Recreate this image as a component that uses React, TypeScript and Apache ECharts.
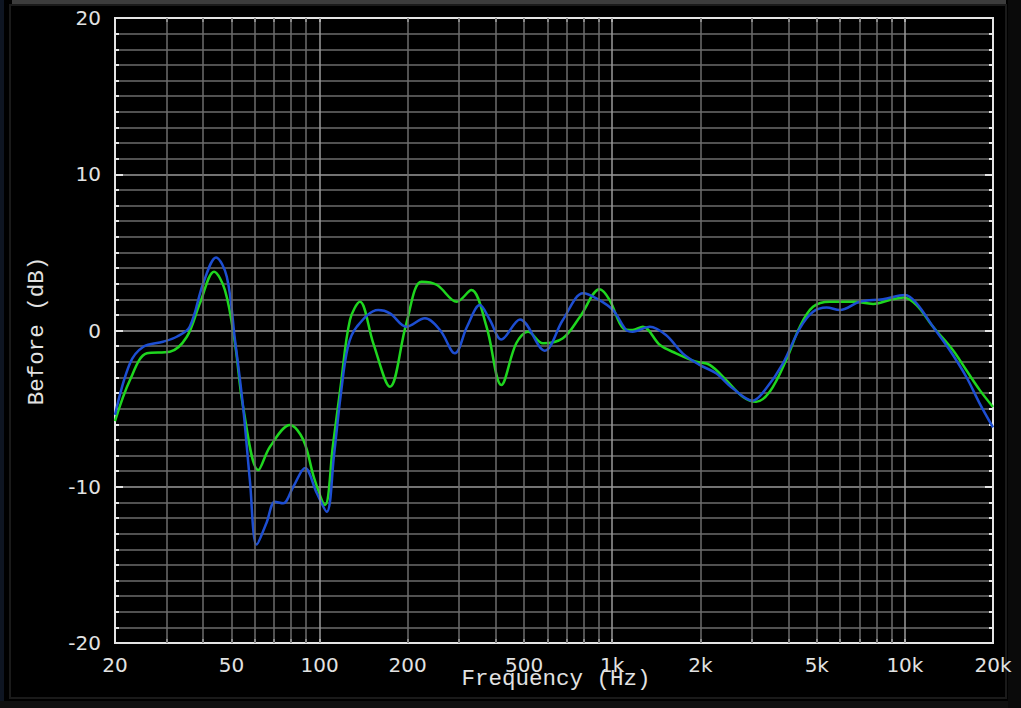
import React, { useEffect, useRef } from 'react';
import * as echarts from 'echarts';

// Axis ticks / labels
const xLabelFreqs = [20, 50, 100, 200, 500, 1000, 2000, 5000, 10000, 20000];
const gridFreqs = [
  30, 40, 50, 60, 70, 80, 90, 100,
  200, 300, 400, 500, 600, 700, 800, 900, 1000,
  2000, 3000, 4000, 5000, 6000, 7000, 8000, 9000, 10000,
];
const decadeFreqs = [100, 1000, 10000];

// Blue curve
const blueFreq = [
  20, 22.5, 25, 29.2, 32.5, 36, 40, 44.3, 48.2, 51.4, 54.8, 57.8, 61, 65.9, 70.4, 75.1,
  81.3, 89.2, 97.8, 105.8, 112, 118, 125, 134, 158.6, 174, 198, 229, 258, 290, 319, 353,
  382, 418, 484, 588, 678, 796, 882, 1006, 1116, 1174, 1344, 1526, 1740, 1988, 2264,
  2580, 3020, 3360, 3832, 4374, 4854, 5400, 5992, 7014, 8416, 10010, 10960, 12480,
  14220, 16200, 18000, 20000,
];
const blueDb = [
  -5.4, -2.1, -1.04, -0.72, -0.4, 0.24, 3.0, 4.68, 3.44, -0.6, -4.9, -9.6, -13.7, -12.3,
  -10.96, -11.06, -10.0, -8.8, -10.4, -11.6, -8.0, -4.2, -1.04, 0.24, 1.31, 1.1, 0.24,
  0.78, 0.03, -1.46, 0.24, 1.63, 0.67, -0.57, 0.71, -1.29, 0.67, 2.38, 2.06, 1.31, 0.03,
  -0.08, 0.24, -0.29, -1.46, -2.2, -2.74, -3.7, -4.49, -3.7, -2.1, 0.14, 1.2, 1.48, 1.31,
  1.84, 2.0, 2.27, 1.74, 0.24, -1.25, -2.96, -4.66, -6.2,
];

// Green curve
const greenFreq = [
  20, 22.5, 25.7, 30.8, 35.2, 39, 43.6, 47.5, 51.4, 54.8, 61.8, 67.7, 79.2, 88, 96, 104.4,
  111, 118, 127, 137.4, 152.6, 174, 198, 223, 252, 294, 330, 372, 418, 470, 516, 580, 678,
  776, 906, 980, 1090, 1174, 1272, 1456, 1652, 1936, 2152, 2452, 2792, 3100, 3452, 3930,
  4374, 4854, 5540, 6668, 7790, 8874, 9880, 10960, 12480, 14580, 16200, 18000, 20000,
];
const greenDb = [
  -5.8, -3.17, -1.46, -1.36, -0.4, 1.74, 3.76, 2.59, -0.82, -4.9, -8.93, -7.44, -6.05,
  -7.0, -9.5, -11.17, -7.4, -3.6, 0.67, 1.84, -0.82, -3.6, 0.46, 3.12, 2.91, 1.84, 2.59,
  0.24, -3.49, -0.82, -0.08, -0.82, -0.5, 0.88, 2.64, 1.95, 0.14, 0.03, 0.24, -0.93,
  -1.46, -2.0, -2.2, -3.17, -4.24, -4.56, -3.92, -1.89, 0.24, 1.52, 1.84, 1.84, 1.7, 1.95,
  2.12, 1.63, 0.24, -1.25, -2.53, -3.8, -4.9,
];

const FRAME = '#e4e4e4';
const LABEL = '#e2e2e2';
const MINOR = '#6c6c6c';
const MAJOR = '#9a9a9a';

export default function App() {
  const ref = useRef<HTMLDivElement>(null);

  useEffect(() => {
    document.body.style.margin = '0';
    document.body.style.background = '#000';
    const chart = echarts.init(ref.current!, null, { renderer: 'svg' });

    const fmt = (v: number) => {
      const r = Math.round(v);
      return r >= 1000 ? r / 1000 + 'k' : String(r);
    };
    const tickLabel = {
      color: LABEL,
      fontFamily: 'DejaVu Sans',
      fontSize: 20,
    };
    const xBase: any = {
      type: 'log',
      logBase: 10,
      min: 20,
      max: 20000,
      splitLine: { show: false },
      minorTick: { show: false },
      minorSplitLine: { show: false },
      axisLine: { show: true, onZero: false, lineStyle: { color: FRAME, width: 2 } },
      axisTick: {
        show: true,
        inside: true,
        length: 4,
        customValues: gridFreqs,
        lineStyle: { color: FRAME, width: 2 },
      },
    };
    const yBase: any = {
      type: 'value',
      min: -20,
      max: 20,
      interval: 10,
      axisLine: { show: true, onZero: false, lineStyle: { color: FRAME, width: 2 } },
      axisTick: { show: true, inside: true, length: 8, lineStyle: { color: FRAME, width: 2 } },
      minorTick: { show: true, splitNumber: 10, length: 4, lineStyle: { color: FRAME, width: 2 } },
      splitLine: { show: true, lineStyle: { color: MAJOR, width: 1.5 } },
      minorSplitLine: { show: true, lineStyle: { color: MINOR, width: 1.5 } },
    };

    chart.setOption({
      animation: false,
      backgroundColor: '#000',
      grid: {
        left: 115,
        top: 18,
        width: 878,
        height: 625,
        show: true,
        backgroundColor: '#000',
        borderColor: FRAME,
        borderWidth: 2,
      },
      xAxis: [
        {
          ...xBase,
          position: 'bottom',
          axisLabel: {
            ...tickLabel,
            customValues: xLabelFreqs,
            formatter: fmt,
            margin: 12,
          },
        },
        {
          ...xBase,
          position: 'top',
          axisLabel: { show: false },
        },
      ],
      yAxis: [
        {
          ...yBase,
          position: 'left',
          axisLabel: { ...tickLabel, margin: 14 },
        },
        {
          ...yBase,
          position: 'right',
          splitLine: { show: false },
          minorSplitLine: { show: false },
          axisLabel: { show: false },
        },
      ],
      series: [
        {
          name: 'grid',
          type: 'line',
          data: [[20, -20]],
          showSymbol: false,
          lineStyle: { opacity: 0 },
          silent: true,
          z: 1,
          markLine: {
            silent: true,
            symbol: ['none', 'none'],
            label: { show: false },
            emphasis: { disabled: true },
            data: gridFreqs.map((f) => ({
              xAxis: f,
              lineStyle: {
                color: decadeFreqs.includes(f) ? MAJOR : MINOR,
                width: 1.5,
                type: 'solid',
              },
            })),
          },
        },
        {
          name: 'green',
          type: 'line',
          data: greenFreq.map((f, i) => [f, greenDb[i]]),
          showSymbol: false,
          smooth: 0.35,
          lineStyle: { color: '#1fd61f', width: 2.5 },
          itemStyle: { color: '#1fd61f' },
          z: 3,
        },
        {
          name: 'blue',
          type: 'line',
          data: blueFreq.map((f, i) => [f, blueDb[i]]),
          showSymbol: false,
          smooth: 0.35,
          lineStyle: { color: '#1d4ed2', width: 2.5 },
          itemStyle: { color: '#1d4ed2' },
          z: 4,
        },
      ],
      graphic: [
        { type: 'rect', shape: { x: 0, y: 0, width: 4, height: 708 }, style: { fill: '#0e1522' }, silent: true },
        { type: 'rect', shape: { x: 12, y: 0, width: 994, height: 4 }, style: { fill: '#3c3c3c' }, silent: true },
        { type: 'rect', shape: { x: 10, y: 5, width: 996, height: 693 }, style: { fill: 'none', stroke: '#1a1a1a', lineWidth: 2 }, silent: true },
        { type: 'rect', shape: { x: 0, y: 701, width: 1021, height: 7 }, style: { fill: '#101010' }, silent: true },
        { type: 'rect', shape: { x: 1008, y: 0, width: 13, height: 708 }, style: { fill: '#0a0a0a' }, silent: true },
        {
          type: 'text',
          x: 556,
          y: 679,
          silent: true,
          style: {
            text: 'Frequency (Hz)',
            fill: LABEL,
            font: '22.5px "Liberation Mono"',
            align: 'center',
            verticalAlign: 'middle',
          },
        },
        {
          type: 'text',
          x: 37,
          y: 331,
          rotation: Math.PI / 2,
          silent: true,
          style: {
            text: 'Before (dB)',
            fill: LABEL,
            font: '22.5px "Liberation Mono"',
            align: 'center',
            verticalAlign: 'middle',
          },
        },
      ],
    });

    return () => chart.dispose();
  }, []);

  return <div ref={ref} style={{ width: 1021, height: 708 }} />;
}
